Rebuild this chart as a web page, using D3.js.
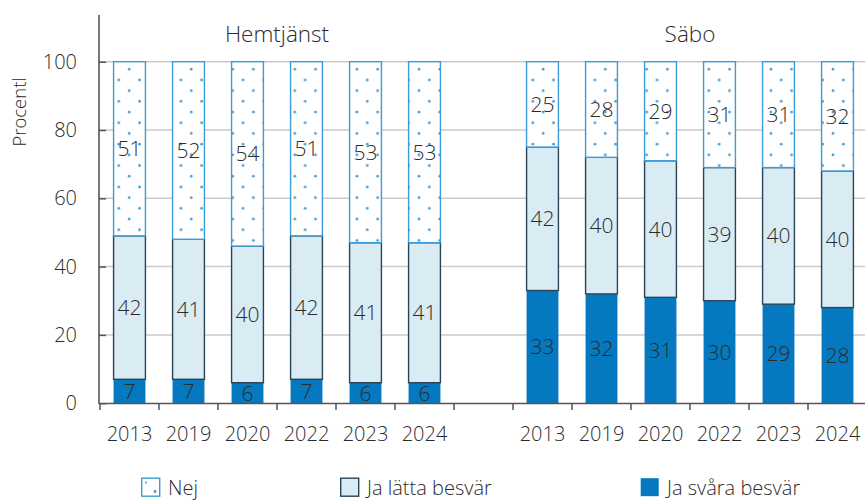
<!DOCTYPE html>
<html>
<head>
<meta charset="utf-8">
<script src="https://cdn.jsdelivr.net/npm/d3@7"></script>
<style>
  body { margin: 0; background: #fff; }
  svg text { font-family: "Open Sans", "Noto Sans", sans-serif; font-weight: 300; fill: #2b2b2b; }
</style>
</head>
<body>
<div id="chart"></div>
<script>
// data
const years = ["2013", "2019", "2020", "2022", "2023", "2024"];
const groups = ["Hemtjänst", "Säbo"];
const hemSvara = [7, 7, 6, 7, 6, 6];
const hemLatta = [42, 41, 40, 42, 41, 41];
const hemNej = [51, 52, 54, 51, 53, 53];
const saboSvara = [33, 32, 31, 30, 29, 28];
const saboLatta = [42, 40, 40, 39, 40, 40];
const saboNej = [25, 28, 29, 31, 31, 32];
const seriesNames = ["Ja svåra besvär", "Ja lätta besvär", "Nej"];
const yTicks = [0, 20, 40, 60, 80, 100];

const width = 865, height = 500;
const margin = { top: 15, right: -2, bottom: 97, left: 100 };

const svg = d3.select("#chart").append("svg")
    .attr("width", width)
    .attr("height", height);

const defs = svg.append("defs");
const pat = defs.append("pattern")
    .attr("id", "dots")
    .attr("patternUnits", "userSpaceOnUse")
    .attr("width", 20.7)
    .attr("height", 21.4);
pat.append("rect").attr("width", 20.7).attr("height", 21.4).attr("fill", "#fff");
pat.append("circle").attr("cx", 5).attr("cy", 5).attr("r", 1.3).attr("fill", "#3d9ad8");
pat.append("circle").attr("cx", 15.35).attr("cy", 15.7).attr("r", 1.3).attr("fill", "#3d9ad8");

// build rows: one per bar, plus a gap slot between the groups
const rows = [];
years.forEach((yr, i) => rows.push({ key: "H" + yr, year: yr, group: groups[0], svara: hemSvara[i], latta: hemLatta[i], nej: hemNej[i] }));
rows.push({ key: "gap", year: "", gap: true });
years.forEach((yr, i) => rows.push({ key: "S" + yr, year: yr, group: groups[1], svara: saboSvara[i], latta: saboLatta[i], nej: saboNej[i] }));

const x = d3.scaleBand()
    .domain(rows.map(d => d.key))
    .range([margin.left, width - margin.right])
    .paddingInner(0.46)
    .paddingOuter(0.23);

const y = d3.scaleLinear()
    .domain([0, 100])
    .range([403.2, 61.7]);

// gridlines
svg.append("g")
    .selectAll("line")
    .data(yTicks.filter(t => t > 0))
    .join("line")
    .attr("x1", 99).attr("x2", width)
    .attr("y1", d => y(d)).attr("y2", d => y(d))
    .attr("stroke", "#cacaca")
    .attr("stroke-width", 1.5);

// y axis
const yAxis = svg.append("g")
    .attr("transform", "translate(99,0)")
    .call(d3.axisLeft(y).tickValues(yTicks).tickSize(-7).tickPadding(22));
yAxis.select(".domain").remove();
yAxis.selectAll(".tick line").attr("stroke", "#555").attr("stroke-width", 1.5);
yAxis.selectAll(".tick text").attr("font-size", 20).attr("fill", "#2b2b2b")
    .attr("font-family", "Open Sans, sans-serif").attr("font-weight", 300);
svg.append("line")
    .attr("x1", 99).attr("x2", 99).attr("y1", 15).attr("y2", 404)
    .attr("stroke", "#555").attr("stroke-width", 1.6);

svg.append("text")
    .attr("transform", "translate(26,112) rotate(-90)")
    .attr("text-anchor", "middle")
    .attr("font-size", 18.5)
    .text("Procentl");

// stacked bars
const stack = d3.stack().keys(["svara", "latta", "nej"]);
const stacked = stack(rows.filter(d => !d.gap));
const fills = { svara: "#0579bf", latta: "#d9ebf3", nej: "url(#dots)" };
const strokes = { svara: "#0579bf", latta: "#2a4458", nej: "#3d9ad8" };

const layers = svg.append("g")
    .selectAll("g")
    .data(stacked)
    .join("g");

layers.selectAll("rect")
    .data(s => s.map(d => Object.assign(d, { k: s.key })))
    .join("rect")
    .attr("x", d => x(d.data.key))
    .attr("width", x.bandwidth())
    .attr("y", d => y(d[1]))
    .attr("height", d => y(d[0]) - y(d[1]))
    .attr("fill", d => fills[d.k])
    .attr("stroke", d => strokes[d.k])
    .attr("stroke-width", d => d.k === "svara" ? 0 : 1.4);

layers.selectAll("text")
    .data(s => s)
    .join("text")
    .attr("x", d => x(d.data.key) + x.bandwidth() / 2)
    .attr("y", d => (y(d[0]) + y(d[1])) / 2)
    .attr("dy", "0.36em")
    .attr("text-anchor", "middle")
    .attr("font-size", 21)
    .attr("fill", d => d.k === "svara" ? "#111" : "#2b2b2b")
    .text(d => d.data[d.k]);

// x axis
svg.append("line")
    .attr("x1", 99).attr("x2", width).attr("y1", 403.5).attr("y2", 403.5)
    .attr("stroke", "#555").attr("stroke-width", 1.6);

const xAxis = svg.append("g")
    .attr("transform", "translate(0,403.5)")
    .call(d3.axisBottom(x).tickFormat(k => rows.find(r => r.key === k).year).tickSize(0).tickPadding(23));
xAxis.select(".domain").remove();
xAxis.selectAll(".tick text").attr("font-size", 20).attr("fill", "#2b2b2b")
    .attr("font-family", "Open Sans, sans-serif").attr("font-weight", 300);

// tick marks at band boundaries
const step = x.step();
svg.append("g")
    .selectAll("line")
    .data(rows.map(d => x(d.key) - step * x.paddingOuter()))
    .join("line")
    .attr("x1", d => d).attr("x2", d => d)
    .attr("y1", 403.5).attr("y2", 410)
    .attr("stroke", "#555").attr("stroke-width", 1.5);

// group titles
groups.forEach(g => {
    const keys = rows.filter(r => r.group === g).map(r => r.key);
    const cx = (x(keys[0]) + x(keys[keys.length - 1]) + x.bandwidth()) / 2;
    svg.append("text")
        .attr("x", cx)
        .attr("y", 41.5)
        .attr("text-anchor", "middle")
        .attr("font-size", 22.5)
        .text(g);
});

// legend
const legendItems = [
    { name: seriesNames[2], k: "nej", x: 141 },
    { name: seriesNames[1], k: "latta", x: 340 },
    { name: seriesNames[0], k: "svara", x: 640 }
];
const leg = svg.append("g")
    .selectAll("g")
    .data(legendItems)
    .join("g")
    .attr("transform", d => `translate(${d.x},477.5)`);
leg.append("rect")
    .attr("x", 0.7).attr("y", 0.7)
    .attr("width", 18).attr("height", 18)
    .attr("fill", d => d.k === "nej" ? "#fff" : fills[d.k])
    .attr("stroke", d => d.k === "latta" ? "#2a4458" : (d.k === "nej" ? "#3d9ad8" : "none"))
    .attr("stroke-width", 1.4);
leg.filter(d => d.k === "nej").append("circle")
    .attr("cx", 5).attr("cy", 5).attr("r", 1).attr("fill", "#3d9ad8");
leg.filter(d => d.k === "nej").append("circle")
    .attr("cx", 14).attr("cy", 14).attr("r", 1.4).attr("fill", "#3d9ad8");
leg.append("text")
    .attr("x", 27)
    .attr("y", 17)
    .attr("font-size", 20)
    .text(d => d.name);
</script>
</body>
</html>
